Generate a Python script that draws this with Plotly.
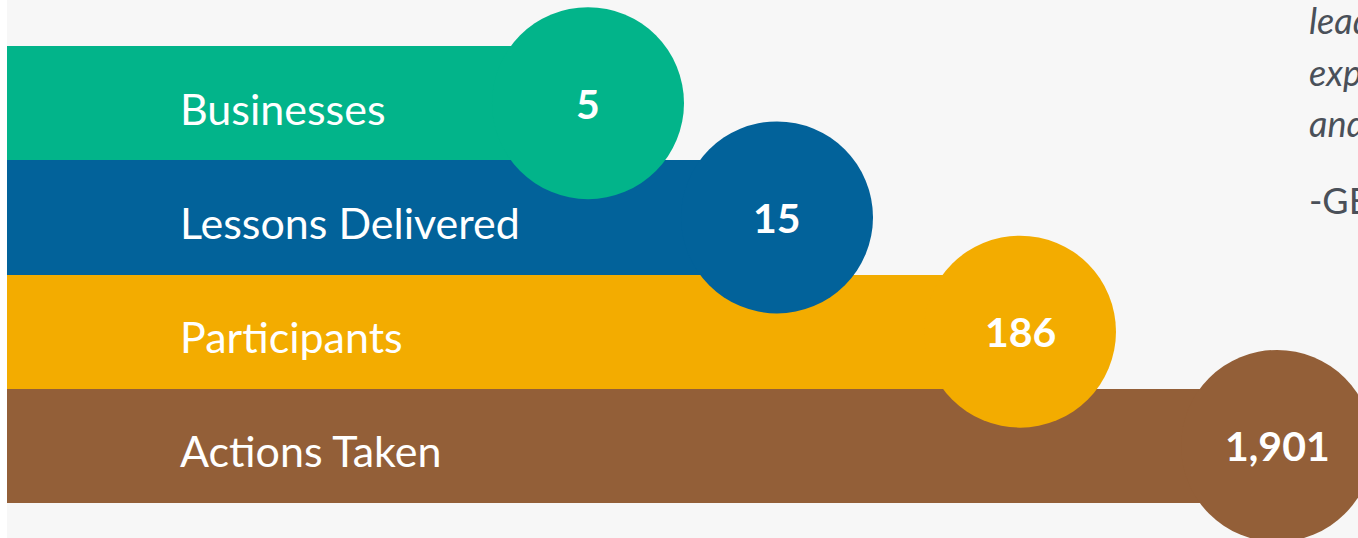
import plotly.graph_objects as go

# ---- data ----
categories = ["Businesses", "Lessons Delivered", "Participants", "Actions Taken"]
values = [5, 15, 186, 1901]
value_labels = ["5", "15", "186", "1,901"]
display_length = [581, 770, 1013, 1270]   # visual bar lengths (infographic, not to scale)
colors = ["#02B48A", "#02629A", "#F3AC00", "#935F38"]
quote_lines = ["lead", "expe", "and"]
quote_source = "-GE"

BAR_START = 7

fig = go.Figure()

# bars
fig.add_trace(go.Bar(
    y=categories, x=display_length, base=BAR_START, orientation="h",
    marker=dict(color=colors, line=dict(width=0)), width=1.0,
    hoverinfo="skip", showlegend=False,
))

# circles
fig.add_trace(go.Scatter(
    y=categories, x=[BAR_START + d for d in display_length],
    mode="markers",
    marker=dict(size=192, color=colors, line=dict(width=0), opacity=1),
    hoverinfo="skip", showlegend=False, cliponaxis=False,
))

# value labels in circles
for i, (d, t) in enumerate(zip(display_length, value_labels)):
    fig.add_annotation(x=BAR_START + d, y=i, yshift=0, text=f"<b>{t}</b>", showarrow=False,
                       xanchor="center", yanchor="middle",
                       font=dict(family="Lato", size=41, color="white"))

# category labels
for i, c in enumerate(categories):
    fig.add_annotation(x=178, y=i, yshift=-5, text=c, showarrow=False,
                       xanchor="left", yanchor="middle",
                       font=dict(family="Lato", size=43, color="white"))

# quote text at right edge (cut off in reference)
qy = [20, 72, 123]
for t, yy in zip(quote_lines, qy):
    fig.add_annotation(xref="paper", yref="paper", x=1307 / 1358, y=1 - yy / 538,
                       text=f"<i>{t}</i>", showarrow=False, xanchor="left", yanchor="middle",
                       font=dict(family="Lato", size=36, color="#4A5059"))
fig.add_annotation(xref="paper", yref="paper", x=1307 / 1358, y=1 - 200 / 538,
                   text=quote_source, showarrow=False, xanchor="left", yanchor="middle",
                   font=dict(family="Lato", size=36, color="#4A5059"))

# white strip on the left edge
fig.add_shape(type="rect", xref="paper", yref="paper", x0=0, x1=BAR_START / 1358, y0=0, y1=1,
              fillcolor="white", line=dict(width=0), layer="below")

px_per_cat = 457 / 4
fig.update_layout(
    width=1358, height=538,
    margin=dict(l=0, r=0, t=0, b=0),
    paper_bgcolor="#F7F7F7", plot_bgcolor="rgba(0,0,0,0)",
    bargap=0,
    xaxis=dict(range=[0, 1358], visible=False, fixedrange=True),
    yaxis=dict(range=[3.5 + 35 / px_per_cat, -0.5 - 46 / px_per_cat], visible=False,
               type="category", categoryorder="array", categoryarray=categories, fixedrange=True),
)

fig.write_html("out.html", config={"displayModeBar": False})
